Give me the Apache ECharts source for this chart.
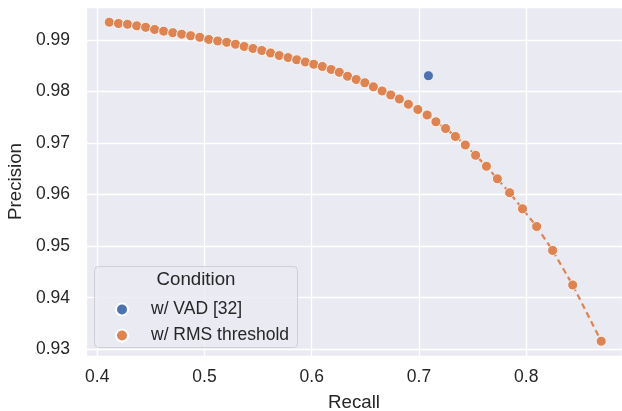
<!DOCTYPE html>
<html>
<head>
<meta charset="utf-8">
<script src="https://cdn.jsdelivr.net/npm/echarts@6/dist/echarts.min.js"></script>
<style>
html,body{margin:0;padding:0;background:#fff;}
#chart{width:622px;height:411px;}
</style>
</head>
<body>
<div id="chart"></div>
<script>
var seriesNames = ['w/ VAD [32]', 'w/ RMS threshold'];
var legendTitle = 'Condition';
var xName = 'Recall';
var yName = 'Precision';

var recallVAD = [0.7088];
var precisionVAD = [0.98307];

var recallRMS = [0.4112,0.4198,0.4282,0.4368,0.4451,0.4535,0.4619,0.4704,0.4787,0.4871,
  0.4956,0.5040,0.5123,0.5207,0.5289,0.5370,0.5452,0.5534,0.5616,0.5697,
  0.5779,0.5860,0.5940,0.6019,0.6099,0.6181,0.6257,0.6334,0.6415,0.6495,
  0.6575,0.6656,0.6737,0.6817,0.6901,0.6989,0.7076,0.7158,0.7248,0.7340,
  0.7432,0.7528,0.7629,0.7731,0.7845,0.7965,0.8097,0.8246,0.8433,0.8699];
var precisionRMS = [0.99345,0.99320,0.99305,0.99275,0.99246,0.99204,0.99171,0.99142,0.99113,0.99083,
  0.99052,0.99010,0.98981,0.98955,0.98917,0.98874,0.98835,0.98796,0.98748,0.98699,
  0.98659,0.98616,0.98573,0.98529,0.98486,0.98428,0.98373,0.98296,0.98234,0.98170,
  0.98092,0.98011,0.97933,0.97855,0.97753,0.97652,0.97545,0.97413,0.97283,0.97128,
  0.96963,0.96763,0.96550,0.96307,0.96038,0.95725,0.95382,0.94917,0.94247,0.93157];

var xTicks = [0.4, 0.5, 0.6, 0.7, 0.8];
var yTicks = [0.93, 0.94, 0.95, 0.96, 0.97, 0.98, 0.99];

function zip(a, b) { return a.map(function (v, i) { return [v, b[i]]; }); }
function tickFormatter(ticks, digits) {
  return function (v) {
    for (var i = 0; i < ticks.length; i++) {
      if (Math.abs(ticks[i] - v) < 1e-7) return ticks[i].toFixed(digits);
    }
    return '';
  };
}

var FONT = '"Liberation Sans", Arial, sans-serif';
var TXT = '#262626';

var chart = echarts.init(document.getElementById('chart'), null, {renderer: 'canvas'});
chart.setOption({
  animation: false,
  backgroundColor: '#ffffff',
  grid: {
    left: 86, right: 0, top: 7, bottom: 55,
    outerBoundsMode: 'none', containLabel: false,
    show: true, backgroundColor: '#eaeaf2', borderWidth: 0
  },
  xAxis: {
    type: 'value', min: 0.3895, max: 0.8893, splitNumber: 5,
    name: xName, nameLocation: 'middle', nameGap: 37,
    nameTextStyle: {fontFamily: FONT, fontSize: 18.7, color: TXT},
    axisLine: {show: false}, axisTick: {show: false},
    axisLabel: {fontFamily: FONT, fontSize: 17.5, color: TXT, margin: 12,
      formatter: tickFormatter(xTicks, 1)},
    splitLine: {show: true, lineStyle: {color: '#ffffff', width: 1.3}}
  },
  yAxis: {
    type: 'value', min: 0.9287, max: 0.9964, splitNumber: 5,
    name: yName, nameLocation: 'middle', nameGap: 50,
    nameTextStyle: {fontFamily: FONT, fontSize: 18.7, color: TXT},
    axisLine: {show: false}, axisTick: {show: false},
    axisLabel: {fontFamily: FONT, fontSize: 17.5, color: TXT, margin: 16,
      formatter: tickFormatter(yTicks, 2)},
    splitLine: {show: true, lineStyle: {color: '#ffffff', width: 1.3}}
  },
  legend: {
    z: 120, zlevel: 0,
    left: 110, top: 295.5, orient: 'vertical', itemGap: 8,
    itemWidth: 12, itemHeight: 12, icon: 'circle',
    textStyle: {fontFamily: FONT, fontSize: 17.5, color: TXT, padding: [0, 0, 0, 18]},
    data: seriesNames
  },
  graphic: [
    {type: 'rect', z: 100, shape: {x: 94.5, y: 266.5, width: 203, height: 81, r: 4},
      style: {fill: 'rgba(234,234,242,0.8)', stroke: '#cfcfd6', lineWidth: 1}},
    {type: 'text', z: 101, x: 196, y: 280,
      style: {text: legendTitle, font: '18.7px ' + FONT, fill: TXT, align: 'center', verticalAlign: 'middle'}}
  ],
  series: [
    {
      name: seriesNames[0], type: 'scatter', data: zip(recallVAD, precisionVAD),
      symbolSize: 10, itemStyle: {color: '#4c72b0', opacity: 1, borderColor: '#ffffff', borderWidth: 0.8}
    },
    {
      name: seriesNames[1], type: 'line', data: zip(recallRMS, precisionRMS),
      symbol: 'circle', symbolSize: 10, showAllSymbol: true,
      lineStyle: {color: '#dd8452', width: 2.2, type: [6, 4]},
      itemStyle: {color: '#dd8452', opacity: 1, borderColor: '#ffffff', borderWidth: 0.8}
    }
  ]
});
</script>
</body>
</html>
